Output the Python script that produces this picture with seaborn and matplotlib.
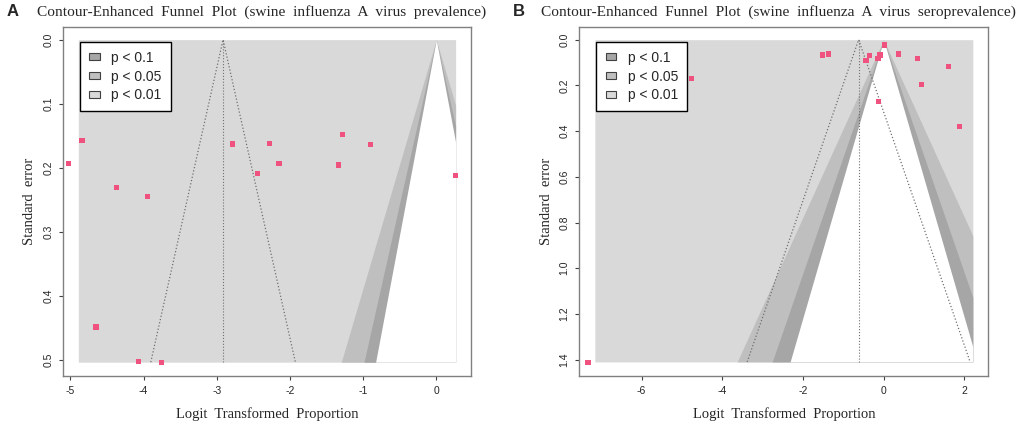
import numpy as np
import pandas as pd
import matplotlib
matplotlib.use("Agg")
import matplotlib.pyplot as plt
from matplotlib.patches import Patch
import seaborn as sns

# Panel A: swine influenza A virus prevalence
a_te = [-5.02, -4.84, -4.37, -3.95, -4.65, -4.07, -3.75, -2.78, -2.44,
        -2.28, -2.15, -1.34, -1.28, -0.90, 0.264]
a_se = [0.193, 0.157, 0.231, 0.245, 0.449, 0.503, 0.505, 0.163, 0.209,
        0.162, 0.193, 0.196, 0.148, 0.164, 0.212]
a_pooled = -2.913
a_rect = (-4.89, 0.264, 0.504)   # xmin, xmax, se max of contour area

# Panel B: swine influenza A virus seroprevalence
b_te = [-7.33, -4.76, -1.52, -1.36, -0.44, -0.36, -0.14, -0.09, -0.13,
        0.025, 0.37, 0.83, 0.93, 1.60, 1.89]
b_se = [1.413, 0.171, 0.067, 0.063, 0.092, 0.069, 0.083, 0.067, 0.269,
        0.023, 0.063, 0.082, 0.196, 0.117, 0.381]
b_pooled = -0.62
b_rect = (-7.16, 2.21, 1.41)

contour_levels = [0.99, 0.95, 0.90]
z_levels = [2.576, 1.960, 1.645]
contour_labels = ["p < 0.1", "p < 0.05", "p < 0.01"]
contour_cols = ["#A6A6A6", "#BFBFBF", "#D9D9D9"]

sns.set_style("white")
plt.rcParams["font.family"] = ["Liberation Sans", "DejaVu Sans"]

fig = plt.figure(figsize=(10.21, 4.25), dpi=100)
ax_a = fig.add_axes([0.0617, 0.1153, 0.3996, 0.8212])
ax_b = fig.add_axes([0.5674, 0.1153, 0.4006, 0.8212])


def funnel(ax, te, se, pooled, rect, xlim, ylim, xticks, yticks, ylabels, title):
    xmin, xmax, smax = rect
    s = np.linspace(0, smax, 600)
    # outer region p < 0.01
    ax.fill_betweenx(s, xmin, xmax, color=contour_cols[2], lw=0, zorder=1)
    # p < 0.05 band, p < 0.1 band, then non-significant area in white
    fills = [contour_cols[1], contour_cols[0], "white"]
    for z, col in zip(z_levels, fills):
        ax.fill_betweenx(s, np.clip(-z * s, xmin, xmax), np.clip(z * s, xmin, xmax),
                         color=col, lw=0, zorder=2)
    # pooled estimate and 95% pseudo-CI
    ax.plot([pooled, pooled], [0, smax], ls=":", color="#707070", lw=0.8, zorder=3)
    ax.plot([pooled - 1.96 * smax, pooled, pooled + 1.96 * smax], [smax, 0, smax],
            ls=":", color="#707070", lw=0.9, zorder=3)

    df = pd.DataFrame({"te": te, "se": se})
    sns.scatterplot(data=df, x="te", y="se", ax=ax, marker="s", s=14,
                    color="#F0527F", edgecolor="none", zorder=4)

    ax.set_xlim(*xlim)
    ax.set_ylim(*ylim)
    ax.set_xticks(xticks)
    ax.set_xticklabels([str(t) for t in xticks])
    ax.set_yticks(yticks)
    ax.set_yticklabels(ylabels, rotation=90, va="center")
    ax.tick_params(axis="both", length=3, width=0.8, color="#404040",
                   labelsize=7.5, pad=4, direction="out", bottom=True, left=True)
    for sp in ax.spines.values():
        sp.set_color("#808080")
        sp.set_linewidth(1.0)
    ax.set_xlabel("Logit  Transformed  Proportion", family="Liberation Serif",
                  fontsize=10.5, labelpad=8)
    ax.set_ylabel("Standard  error", family="Liberation Serif", fontsize=10.5,
                  labelpad=5)

    handles = [Patch(facecolor=c, edgecolor="#404040", lw=0.8) for c in contour_cols]
    leg = ax.legend(handles, contour_labels, loc="upper left",
                    bbox_to_anchor=(0.042, 0.958), fontsize=10, frameon=True,
                    fancybox=False, framealpha=1, edgecolor="black",
                    handlelength=0.75, handleheight=0.45, handletextpad=0.85,
                    labelspacing=0.35, borderpad=0.65, borderaxespad=0)
    leg.get_frame().set_linewidth(1.0)
    leg.set_zorder(5)

    pos = ax.get_position()
    fig.text((pos.x0 + pos.x1) / 2 - 0.005, 0.972, title, ha="center", va="center",
             family="Liberation Serif", fontsize=11.1)
    return ax


funnel(ax_a, a_te, a_se, a_pooled, a_rect, (-5.10, 0.474), (0.5256, -0.0198),
       [-5, -4, -3, -2, -1, 0], [0.0, 0.1, 0.2, 0.3, 0.4, 0.5],
       ["0.0", "0.1", "0.2", "0.3", "0.4", "0.5"],
       "Contour-Enhanced  Funnel  Plot  (swine  influenza  A  virus  prevalence)")
funnel(ax_b, b_te, b_se, b_pooled, b_rect, (-7.545, 2.595), (1.4716, -0.0555),
       [-6, -4, -2, 0, 2], [0.0, 0.2, 0.4, 0.6, 0.8, 1.0, 1.2, 1.4],
       ["0.0", "0.2", "0.4", "0.6", "0.8", "1.0", "1.2", "1.4"],
       "Contour-Enhanced  Funnel  Plot  (swine  influenza  A  virus  seroprevalence)")

fig.text(0.0069, 0.972, "A", fontsize=12, fontweight="bold", va="center")
fig.text(0.5025, 0.972, "B", fontsize=12, fontweight="bold", va="center")

fig.savefig("out.png", dpi=100)
